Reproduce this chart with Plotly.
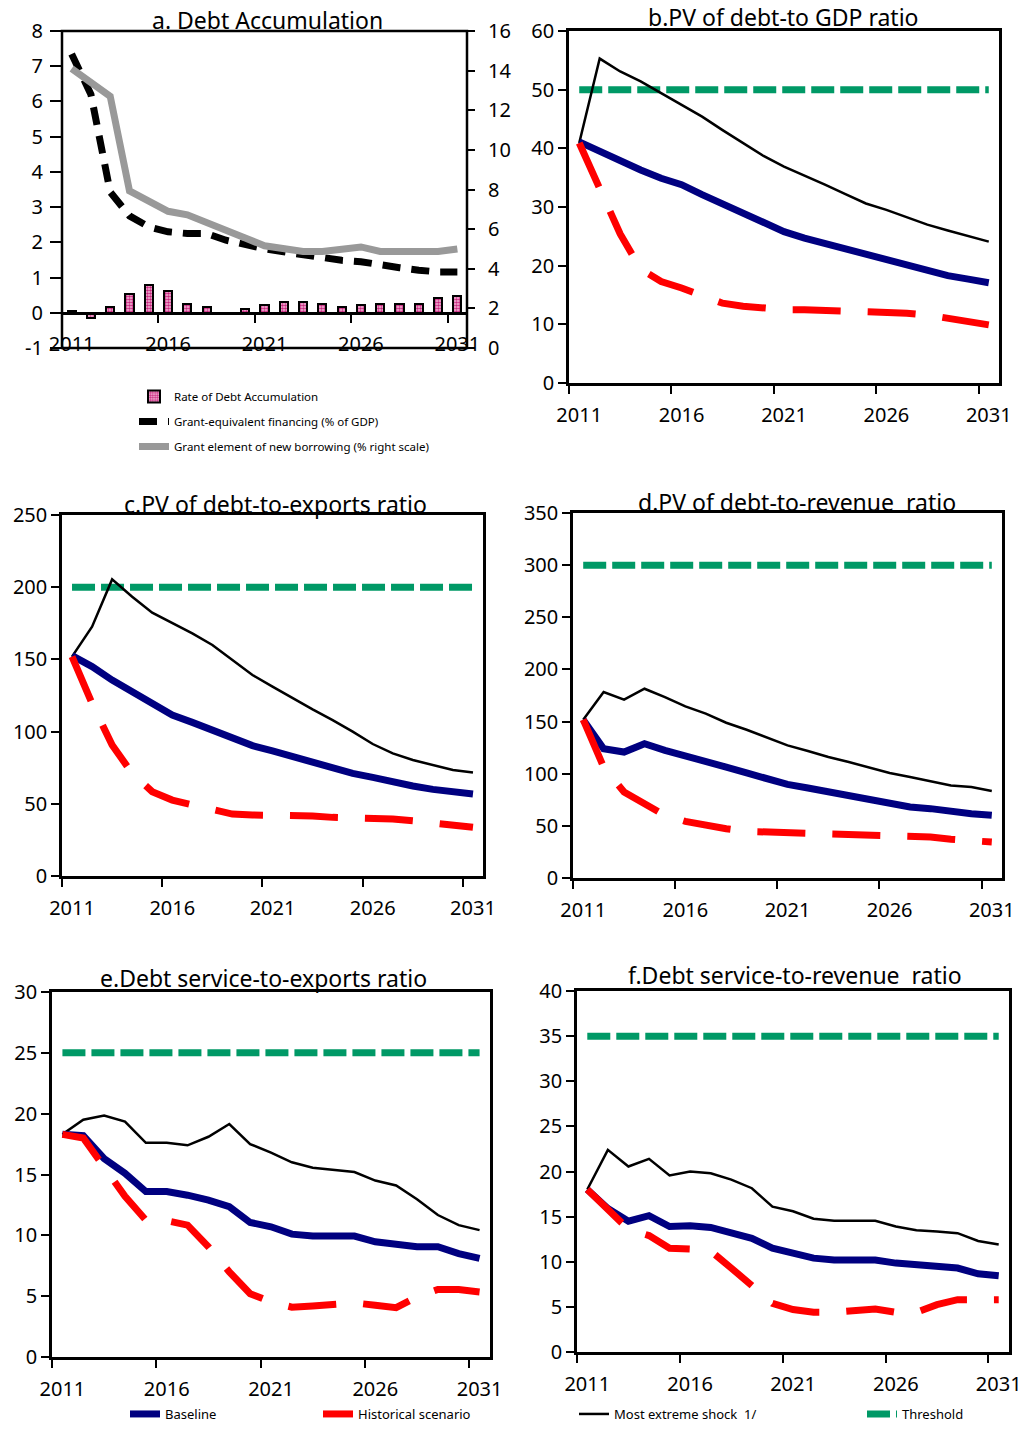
import plotly.graph_objects as go

# ---------------- data ----------------
years = list(range(2011, 2032))

# a. Debt accumulation
debt_accum = [0.05, -0.15, 0.17, 0.53, 0.78, 0.62, 0.26, 0.17, -0.02, 0.10, 0.22,
              0.31, 0.31, 0.26, 0.17, 0.22, 0.26, 0.26, 0.26, 0.43, 0.47]
grant_equiv = [7.35, 6.2, 3.43, 2.75, 2.44, 2.3, 2.25, 2.25, 2.06, 1.92, 1.82,
               1.73, 1.64, 1.59, 1.49, 1.45, 1.35, 1.28, 1.21, 1.16, 1.16]
grant_element = [14.1, 13.4, 12.7, 7.93, 7.4, 6.9, 6.72, 6.3, 5.88, 5.55, 5.16,
                 5.04, 4.87, 4.87, 4.96, 5.1, 4.87, 4.87, 4.87, 4.87, 5.0]
a_left_ticks = [-1, 0, 1, 2, 3, 4, 5, 6, 7, 8]
a_left_labels = ["-1", "0", "1", "2", "3", "4", "5", "6", "7", "8"]

# b. PV of debt-to GDP ratio
b_base = [41.1, 39.4, 37.7, 36.3, 34.9, 33.8, 32.1, 30.5, 28.9, 27.2, 25.8,
          24.7, 23.8, 22.7, 21.8, 20.8, 19.9, 19.0, 18.3, 17.7, 17.1]
b_hist = [40.9, 32.9, 25.4, 19.4, 17.3, 16.2, 14.8, 13.6, 13.1, 12.8, 12.5,
          12.5, 12.4, 12.2, 12.1, 12.0, 11.9, 11.6, 11.1, 10.3, 9.9]
b_shock = [40.9, 55.3, 53.1, 51.4, 49.4, 47.4, 45.4, 43.1, 40.9, 38.7, 36.9,
           35.4, 33.8, 32.2, 30.6, 29.5, 28.3, 27.0, 26.0, 25.1, 24.1]
b_threshold = 50

# c. PV of debt-to-exports ratio
c_base = [152.6, 145, 135.7, 127.7, 118.4, 111.5, 106.4, 100.6, 95.3, 90.3, 86.6,
          82.6, 78.7, 75, 71.1, 68.3, 64.9, 62.3, 60, 58.9, 56.8]
c_hist = [151.9, 119.6, 90.7, 71.1, 58.4, 52.6, 49.2, 45.7, 42.9, 42.2, 42.2,
          42.2, 41.6, 40.6, 40.6, 39.9, 39.5, 38.3, 36.9, 35.3, 33.7]
c_shock = [151.9, 172.7, 205.4, 193.4, 182.4, 175, 168, 160, 149.6, 139.2, 131.1,
           123, 115.4, 108, 100, 91.4, 84.9, 80.3, 76.9, 73.4, 71.6]
c_threshold = 200

# d. PV of debt-to-revenue ratio
d_base = [151.8, 124, 120.8, 128.8, 122.4, 117.6, 112.2, 106.4, 100.7, 95.2, 89.8,
          86.3, 82.5, 78.6, 75.1, 71.3, 68.1, 66.5, 63.3, 61.7, 60.1]
d_hist = [151.8, 106.4, 82.5, 71.3, 60.1, 54.3, 50.5, 47.3, 44.7, 44.1, 44.1,
          42.5, 42.5, 42.5, 41.9, 40.9, 40.9, 39.3, 37.1, 35.5, 34.5]
d_shock = [151.8, 178.3, 171, 181.5, 173.5, 164.6, 157.6, 148.9, 142.2, 134.5, 127.2,
           121.8, 116, 111.2, 105.8, 100.7, 96.8, 93, 88.8, 87.2, 83.4]
d_threshold = 300

# e. Debt service-to-exports ratio
e_base = [18.3, 18.2, 16.3, 15.1, 13.6, 13.6, 13.3, 12.9, 12.35, 11.06, 10.7,
          10.1, 9.94, 9.94, 9.94, 9.47, 9.28, 9.06, 9.06, 8.5, 8.1]
e_hist = [18.3, 18.0, 15.6, 13.2, 11.25, 11.2, 10.84, 9.06, 7.0, 5.2, 4.53,
          4.1, 4.2, 4.34, 4.45, 4.25, 4.05, 4.94, 5.55, 5.55, 5.35]
e_shock = [18.3, 19.5, 19.85, 19.35, 17.6, 17.6, 17.4, 18.1, 19.15, 17.5, 16.8,
           16.0, 15.56, 15.4, 15.2, 14.5, 14.1, 12.96, 11.67, 10.84, 10.43]
e_threshold = 25

# f. Debt service-to-revenue ratio
f_base = [18.0, 15.9, 14.5, 15.1, 13.9, 14.0, 13.8, 13.25, 12.6, 11.5, 11.0,
          10.4, 10.2, 10.2, 10.2, 9.85, 9.67, 9.48, 9.3, 8.67, 8.45]
f_hist = [18.0, 15.75, 13.6, 12.9, 11.5, 11.4, 11.2, 9.3, 7.34, 5.4, 4.7,
          4.4, 4.4, 4.6, 4.76, 4.4, 4.4, 5.24, 5.8, 5.8, 5.8]
f_shock = [18.0, 22.4, 20.55, 21.4, 19.56, 20.0, 19.8, 19.1, 18.15, 16.1, 15.6,
           14.76, 14.54, 14.54, 14.54, 13.9, 13.5, 13.36, 13.17, 12.3, 11.9]
f_threshold = 35

tick_years = [2011, 2016, 2021, 2026, 2031]
boundary_years = [2010.5, 2015.5, 2020.5, 2025.5, 2030.5]

# ---------------- styles ----------------
W, H = 1021, 1429
FONT = "Noto Sans"
NAVY = "#000080"
RED = "#FF0000"
GREEN = "#009966"
GRAY = "#999999"


def dom_x(l, r):
    return [l / W, r / W]


def dom_y(t, b):
    return [1 - b / H, 1 - t / H]


fig = go.Figure()

# ---------- panel a ----------
fig.add_trace(go.Bar(
    x=years, y=debt_accum, width=0.42, name="Rate of Debt Accumulation",
    marker=dict(color="#F6C6E0", line=dict(color="black", width=2),
                pattern=dict(shape=".", fgcolor="#C8287F", bgcolor="#F6C6E0", size=3, solidity=0.6)),
    xaxis="x", yaxis="y", legend="legend", legendgroup="a1", showlegend=True))
fig.add_trace(go.Scatter(
    x=years, y=grant_equiv, mode="lines", name="Grant-equivalent financing (% of GDP)",
    line=dict(color="black", width=7, dash="18px,11px"),
    xaxis="x", yaxis="y", legend="legend", legendgroup="a2", showlegend=True))
fig.add_trace(go.Scatter(
    x=years, y=grant_element, mode="lines", name="Grant element of new borrowing (% right scale)",
    line=dict(color=GRAY, width=7),
    xaxis="x", yaxis="y2", legend="legend", legendgroup="a3", showlegend=True))

# ---------- panels b-f ----------
panels = [
    ("x2", "y3", b_base, b_hist, b_shock, b_threshold),
    ("x3", "y4", c_base, c_hist, c_shock, c_threshold),
    ("x4", "y5", d_base, d_hist, d_shock, d_threshold),
    ("x5", "y6", e_base, e_hist, e_shock, e_threshold),
    ("x6", "y7", f_base, f_hist, f_shock, f_threshold),
]
for k, (xa, ya, base, hist, shock, thr) in enumerate(panels):
    first = k == 0
    fig.add_trace(go.Scatter(x=years, y=[thr] * len(years), mode="lines", name="Threshold",
                             line=dict(color=GREEN, width=7, dash="23px,6px"),
                             xaxis=xa, yaxis=ya, legend="legend5", legendgroup="thr",
                             showlegend=first))
    fig.add_trace(go.Scatter(x=years, y=shock, mode="lines", name="Most extreme shock  1/",
                             line=dict(color="black", width=2.5),
                             xaxis=xa, yaxis=ya, legend="legend4", legendgroup="shock",
                             showlegend=first))
    fig.add_trace(go.Scatter(x=years, y=base, mode="lines", name="Baseline",
                             line=dict(color=NAVY, width=7),
                             xaxis=xa, yaxis=ya, legend="legend2", legendgroup="base",
                             showlegend=first))
    fig.add_trace(go.Scatter(x=years, y=hist, mode="lines", name="Historical scenario",
                             line=dict(color=RED, width=7, dash="48px,27px"),
                             xaxis=xa, yaxis=ya, legend="legend3", legendgroup="hist",
                             showlegend=first))

# ---------------- axes ----------------
tickfont = dict(family=FONT, size=20, color="black")


def xaxis_common(domain, anchor, position=None):
    d = dict(domain=domain, range=[2010.5, 2031.5], tickmode="array", tickvals=tick_years,
             ticktext=[str(t) for t in tick_years], ticks="", tickfont=tickfont,
             showgrid=False, zeroline=False, fixedrange=True, automargin=False,
             ticklabeloverflow="allow",
             minor=dict(tickmode="array", tickvals=boundary_years, ticks="outside",
                        ticklen=8, tickwidth=2, tickcolor="black", showgrid=False),
             ticklabelstandoff=12)
    if position is None:
        d.update(anchor=anchor, showline=True, linecolor="black", linewidth=2.5, mirror=True)
    else:
        d.update(anchor="free", position=position, showline=True, linecolor="black", linewidth=2.5)
    return d


def yaxis_common(domain, anchor, rng, dtick, side="left", mirror=True, showline=True,
                 ticklen=8, standoff=0):
    return dict(domain=domain, anchor=anchor, range=rng, dtick=dtick, tick0=rng[0],
                ticks="outside", ticklen=ticklen, tickwidth=2, tickcolor="black",
                tickfont=tickfont, showgrid=False, zeroline=False, side=side,
                showline=showline, linecolor="black", linewidth=2.5, mirror=mirror,
                fixedrange=True, automargin=False, ticklabelstandoff=standoff,
                ticklabeloverflow="allow")


boxes = {
    "a": (62, 467, 31, 348),
    "b": (569, 999, 31, 383),
    "c": (62, 483, 515, 876),
    "d": (573, 1002, 513, 878),
    "e": (52, 490, 992, 1357),
    "f": (577, 1009, 991, 1352),
}

layout = {}
# panel a
l, r, t, b = boxes["a"]
ya_dom = dom_y(t, b)
ya_rng = [-1, 8]
zero_pos = ya_dom[0] + (0 - ya_rng[0]) / (ya_rng[1] - ya_rng[0]) * (ya_dom[1] - ya_dom[0])
layout["xaxis"] = xaxis_common(dom_x(l, r), "y", position=zero_pos)
layout["yaxis"] = yaxis_common(ya_dom, "x", ya_rng, 1, showline=False, mirror=False,
                               ticklen=11, standoff=3)
layout["yaxis"].update(tickmode="array", tickvals=a_left_ticks, ticktext=a_left_labels)
layout["yaxis2"] = yaxis_common(ya_dom, "x", [0, 16], 2, side="right", showline=False,
                                mirror=False, ticklen=7, standoff=9)
layout["yaxis2"]["overlaying"] = "y"

specs = [("b", "xaxis2", "yaxis3", "x2", "y3", [0, 60], 10),
         ("c", "xaxis3", "yaxis4", "x3", "y4", [0, 250], 50),
         ("d", "xaxis4", "yaxis5", "x4", "y5", [0, 350], 50),
         ("e", "xaxis5", "yaxis6", "x5", "y6", [0, 30], 5),
         ("f", "xaxis6", "yaxis7", "x6", "y7", [0, 40], 5)]
for key, xk, yk, xid, yid, rng, dt in specs:
    l, r, t, b = boxes[key]
    layout[xk] = xaxis_common(dom_x(l, r), yid)
    layout[yk] = yaxis_common(dom_y(t, b), xid, rng, dt)

# titles
titles = [("a. Debt Accumulation", 267, 20),
          ("b.PV of debt-to GDP ratio", 783, 17),
          ("c.PV of debt-to-exports ratio", 275, 504),
          ("d.PV of debt-to-revenue  ratio", 797, 502),
          ("e.Debt service-to-exports ratio", 263, 978),
          ("f.Debt service-to-revenue  ratio", 795, 975)]
annotations = [dict(text=tx, x=cx / W, y=1 - cy / H, xref="paper", yref="paper",
                    xanchor="center", yanchor="middle", showarrow=False,
                    font=dict(family=FONT, size=23, color="black"))
               for tx, cx, cy in titles]

# frame for panel a
shapes = [dict(type="rect", xref="x domain", yref="y domain", x0=0, x1=1, y0=0, y1=1,
               line=dict(color="black", width=2.5), fillcolor="rgba(0,0,0,0)", layer="above")]

legfont = dict(family=FONT, size=11.5, color="black")
legfont2 = dict(family=FONT, size=13, color="black")


def bottom_legend(text_x):
    return dict(x=(text_x - 40) / W, y=1 - 1414 / H, xanchor="left", yanchor="middle",
                orientation="h", font=legfont2, bgcolor="rgba(0,0,0,0)", borderwidth=0)


fig.update_layout(
    template="none",
    width=W, height=H, autosize=False,
    margin=dict(l=0, r=0, t=0, b=0, pad=0),
    paper_bgcolor="white", plot_bgcolor="white",
    font=dict(family=FONT, color="black"),
    annotations=annotations, shapes=shapes,
    bargap=0, showlegend=True,
    legend=dict(x=(174 - 40) / W, y=1 - 382 / H, xanchor="left", yanchor="top",
                orientation="v", font=legfont, bgcolor="rgba(0,0,0,0)", borderwidth=0,
                traceorder="grouped", tracegroupgap=6),
    legend2=bottom_legend(165),
    legend3=bottom_legend(358),
    legend4=bottom_legend(614),
    legend5=bottom_legend(902),
    **layout,
)

fig.write_html("out.html", config={"displayModeBar": False},
               post_script="document.body.style.margin='0px';")
